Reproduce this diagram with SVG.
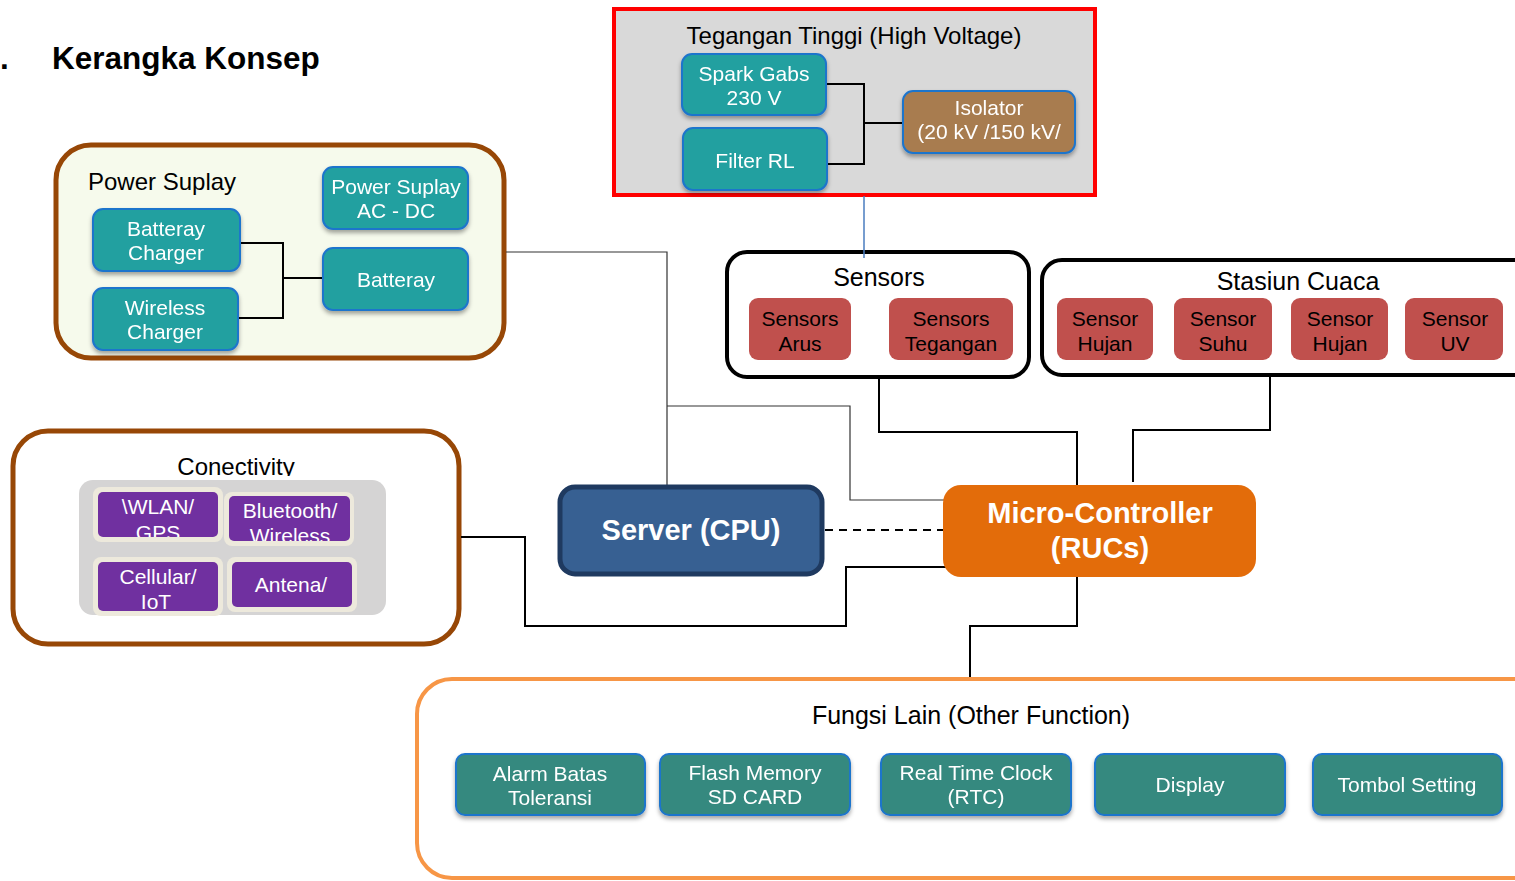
<svg xmlns="http://www.w3.org/2000/svg" width="1515" height="881" viewBox="0 0 1515 881">
<defs>
<style>
text{font-family:"Liberation Sans",Arial,sans-serif}
.t{fill:#000;text-anchor:middle}
.w{fill:#fff;text-anchor:middle;font-size:21px}
.b{fill:#000;text-anchor:middle;font-size:21px}
.teal{fill:#21a0a0;stroke:#1f74cc;stroke-width:2}
.teal2{fill:#35897f;stroke:#1f74cc;stroke-width:2}
.red{fill:#c0504d}
.pur{fill:#7030a0}
.cream{fill:#ede9dc}
.ln{fill:none;stroke:#000;stroke-width:2}
.thin{fill:none;stroke:#333;stroke-width:1.2}
.wb{font-size:29px;font-weight:bold;fill:#fff;text-anchor:middle}
</style>
<filter id="sh" x="-10%" y="-10%" width="120%" height="140%">
<feDropShadow dx="0" dy="3" stdDeviation="2" flood-color="#000" flood-opacity="0.35"/>
</filter>
<clipPath id="cTitle"><rect x="150" y="450" width="180" height="26"/></clipPath>
<clipPath id="cWlan"><rect x="98" y="492" width="120" height="45"/></clipPath>
<clipPath id="cBt"><rect x="229" y="496" width="121" height="45"/></clipPath>
<clipPath id="cCell"><rect x="98" y="562" width="120" height="49"/></clipPath>
</defs>

<rect width="1515" height="881" fill="#fff"/>

<g id="heading">
<text x="0" y="69" font-size="31.5" font-weight="bold">.</text>
<text x="52" y="69" font-size="31.5" font-weight="bold">Kerangka Konsep</text>
</g>

<g id="high-voltage">
<rect x="614" y="9" width="481" height="186" fill="#d9d9d9" stroke="#ff0000" stroke-width="4"/>
<text class="t" x="854" y="44" font-size="24">Tegangan Tinggi (High Voltage)</text>
</g>
<g id="power-suplay">
<rect x="56" y="145" width="448" height="213" rx="35" fill="#f6faec" stroke="#974706" stroke-width="5"/>
<text x="88" y="190" font-size="24">Power Suplay</text>
</g>
<g id="connectivity">
<rect x="13" y="431" width="446" height="213" rx="35" fill="#fff" stroke="#974706" stroke-width="5"/>
<text class="t" x="236" y="475" font-size="24" clip-path="url(#cTitle)">Conectivity</text>
<rect x="79" y="480" width="307" height="135" rx="14" fill="#d5d4d4"/>
</g>
<g id="sensors">
<rect x="727" y="252" width="302" height="125" rx="20" fill="#fff" stroke="#000" stroke-width="4"/>
<text class="t" x="879" y="286" font-size="25">Sensors</text>
</g>
<g id="stasiun-cuaca">
<rect x="1042" y="260" width="500" height="115" rx="20" fill="#fff" stroke="#000" stroke-width="4"/>
<text class="t" x="1298" y="290" font-size="25">Stasiun Cuaca</text>
</g>
<g id="fungsi-lain">
<rect x="417" y="679" width="1140" height="199" rx="35" fill="#fff" stroke="#f79646" stroke-width="4"/>
<text class="t" x="971" y="724" font-size="25">Fungsi Lain (Other Function)</text>
</g>

<g id="connectors">
<path class="ln" d="M826,84 H864 V164 H827 M864,123 H903"/>
<path class="ln" d="M240,243 H283 V318 H238 M283,278 H323"/>
<path d="M864,196 V258" fill="none" stroke="#4a7cbf" stroke-width="1.5"/>
<path class="thin" d="M506,252 H667 V486"/>
<path class="thin" d="M667,406 H850 V500 H945"/>
<path class="ln" d="M879,379 V432 H1077 V486"/>
<path class="ln" d="M1270,377 V430 H1133 V482"/>
<path class="ln" d="M825,530 H943" stroke-dasharray="8 6"/>
<path class="ln" d="M461,537 H525 V626 H846 V567 H946"/>
<path class="ln" d="M1077,577 V626 H970 V677"/>
</g>

<g id="spark-gabs" filter="url(#sh)">
<rect class="teal" x="682" y="54" width="144" height="61" rx="10"/>
<text class="w" x="754" y="81">Spark Gabs</text>
<text class="w" x="754" y="105">230 V</text>
</g>
<g id="filter-rl" filter="url(#sh)">
<rect class="teal" x="683" y="128" width="144" height="62" rx="10"/>
<text class="w" x="755" y="168">Filter RL</text>
</g>
<g id="isolator" filter="url(#sh)">
<rect x="903" y="91" width="172" height="62" rx="10" fill="#a87c4f" stroke="#1f74cc" stroke-width="2"/>
<text class="w" x="989" y="115">Isolator</text>
<text class="w" x="989" y="139">(20 kV /150 kV/</text>
</g>

<g id="batteray-charger" filter="url(#sh)">
<rect class="teal" x="93" y="209" width="147" height="62" rx="10"/>
<text class="w" x="166" y="236">Batteray</text>
<text class="w" x="166" y="260">Charger</text>
</g>
<g id="wireless-charger" filter="url(#sh)">
<rect class="teal" x="93" y="288" width="145" height="62" rx="10"/>
<text class="w" x="165" y="315">Wireless</text>
<text class="w" x="165" y="339">Charger</text>
</g>
<g id="psu-acdc" filter="url(#sh)">
<rect class="teal" x="323" y="167" width="145" height="62" rx="10"/>
<text class="w" x="396" y="194">Power Suplay</text>
<text class="w" x="396" y="218">AC - DC</text>
</g>
<g id="batteray" filter="url(#sh)">
<rect class="teal" x="323" y="248" width="145" height="62" rx="10"/>
<text class="w" x="396" y="287">Batteray</text>
</g>

<g id="wlan-gps">
<rect class="cream" x="93" y="487" width="130" height="55" rx="8"/>
<rect class="pur" x="98" y="492" width="120" height="45" rx="5"/>
<g clip-path="url(#cWlan)">
<text class="w" x="158" y="514">\WLAN/</text>
<text class="w" x="158" y="540">GPS</text>
</g>
</g>
<g id="bluetooth-wireless">
<rect class="cream" x="224" y="492" width="130" height="54" rx="8"/>
<rect class="pur" x="229" y="496" width="121" height="45" rx="5"/>
<g clip-path="url(#cBt)">
<text class="w" x="290" y="518">Bluetooth/</text>
<text class="w" x="290" y="543">Wireless</text>
</g>
</g>
<g id="cellular-iot">
<rect class="cream" x="93" y="557" width="130" height="59" rx="8"/>
<rect class="pur" x="98" y="562" width="120" height="49" rx="5"/>
<g clip-path="url(#cCell)">
<text class="w" x="158" y="584">Cellular/</text>
<text class="w" x="156" y="609">IoT</text>
</g>
</g>
<g id="antena">
<rect class="cream" x="227" y="557" width="130" height="55" rx="8"/>
<rect class="pur" x="232" y="562" width="120" height="45" rx="5"/>
<text class="w" x="291" y="592">Antena/</text>
</g>

<g id="sensors-arus">
<rect class="red" x="749" y="298" width="102" height="62" rx="9"/>
<text class="b" x="800" y="326">Sensors</text>
<text class="b" x="800" y="351">Arus</text>
</g>
<g id="sensors-tegangan">
<rect class="red" x="889" y="298" width="124" height="62" rx="9"/>
<text class="b" x="951" y="326">Sensors</text>
<text class="b" x="951" y="351">Tegangan</text>
</g>
<g id="sensor-hujan-1">
<rect class="red" x="1057" y="298" width="96" height="62" rx="9"/>
<text class="b" x="1105" y="326">Sensor</text>
<text class="b" x="1105" y="351">Hujan</text>
</g>
<g id="sensor-suhu">
<rect class="red" x="1174" y="298" width="98" height="62" rx="9"/>
<text class="b" x="1223" y="326">Sensor</text>
<text class="b" x="1223" y="351">Suhu</text>
</g>
<g id="sensor-hujan-2">
<rect class="red" x="1291" y="298" width="97" height="62" rx="9"/>
<text class="b" x="1340" y="326">Sensor</text>
<text class="b" x="1340" y="351">Hujan</text>
</g>
<g id="sensor-uv">
<rect class="red" x="1405" y="298" width="98" height="62" rx="9"/>
<text class="b" x="1455" y="326">Sensor</text>
<text class="b" x="1455" y="351">UV</text>
</g>

<g id="server-cpu">
<rect x="560" y="487" width="262" height="87" rx="15" fill="#376092" stroke="#1f3a60" stroke-width="5"/>
<text class="wb" x="691" y="540">Server (CPU)</text>
</g>

<g id="micro-controller">
<rect x="943" y="485" width="313" height="92" rx="18" fill="#e36c0a"/>
<text class="wb" x="1100" y="523">Micro-Controller</text>
<text class="wb" x="1100" y="558">(RUCs)</text>
</g>

<g id="alarm" filter="url(#sh)">
<rect class="teal2" x="456" y="754" width="189" height="61" rx="9"/>
<text class="w" x="550" y="781">Alarm Batas</text>
<text class="w" x="550" y="805">Toleransi</text>
</g>
<g id="flash-memory" filter="url(#sh)">
<rect class="teal2" x="660" y="754" width="190" height="61" rx="9"/>
<text class="w" x="755" y="780">Flash Memory</text>
<text class="w" x="755" y="804">SD CARD</text>
</g>
<g id="rtc" filter="url(#sh)">
<rect class="teal2" x="881" y="754" width="190" height="61" rx="9"/>
<text class="w" x="976" y="780">Real Time Clock</text>
<text class="w" x="976" y="804">(RTC)</text>
</g>
<g id="display" filter="url(#sh)">
<rect class="teal2" x="1095" y="754" width="190" height="61" rx="9"/>
<text class="w" x="1190" y="792">Display</text>
</g>
<g id="tombol-setting" filter="url(#sh)">
<rect class="teal2" x="1313" y="754" width="189" height="61" rx="9"/>
<text class="w" x="1407" y="792">Tombol Setting</text>
</g>
</svg>
